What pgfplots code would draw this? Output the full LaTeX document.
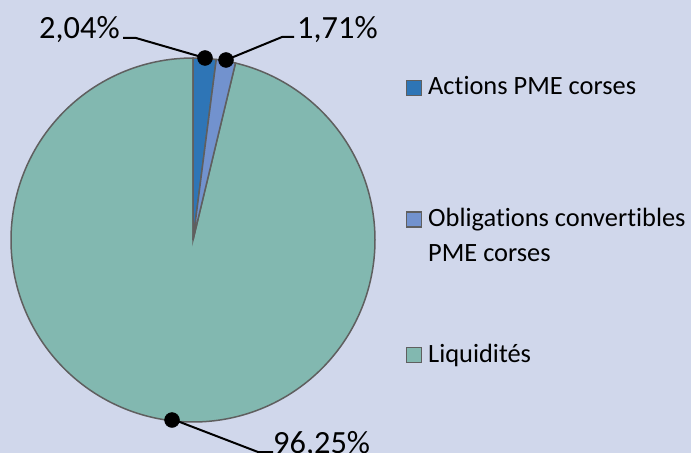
\documentclass[border=0pt]{standalone}
\usepackage{pgfplots}
\pgfplotsset{compat=1.18}
\usepackage{fontspec}
\setmainfont[Ligatures={NoCommon}]{Carlito}
\definecolor{bg}{RGB}{208,215,235}
\definecolor{sA}{RGB}{46,117,182}
\definecolor{sB}{RGB}{114,146,206}
\definecolor{sC}{RGB}{130,184,176}
\definecolor{edge}{RGB}{95,95,95}
% data (percent)
\def\vA{2.04}
\def\vB{1.71}
\def\vC{96.25}
\def\cx{193}
\def\cy{240}
\def\R{182}
\begin{document}
\begin{tikzpicture}
\pgfmathsetmacro{\aZero}{90}
\pgfmathsetmacro{\aA}{90-3.6*\vA}
\pgfmathsetmacro{\aB}{\aA-3.6*\vB}
\pgfmathsetmacro{\aC}{\aB-3.6*\vC}
\begin{axis}[
  width=691bp, height=453bp, scale only axis,
  xmin=0, xmax=691, ymin=0, ymax=453, y dir=reverse,
  hide axis, clip=true,
]
% background
\addplot[fill=bg, draw=none] coordinates {(0,0) (691,0) (691,453) (0,453)} -- cycle;
% wedges
\addplot[fill=sC, draw=edge, line width=1.5bp, domain=\aC:\aB, samples=300, variable=\t]
  ({\cx+\R*cos(\t)}, {\cy-\R*sin(\t)}) -- (axis cs:\cx,\cy) -- cycle;
\addplot[fill=sA, draw=edge, line width=1.5bp, domain=\aA:\aZero, samples=12, variable=\t]
  ({\cx+\R*cos(\t)}, {\cy-\R*sin(\t)}) -- (axis cs:\cx,\cy) -- cycle;
\addplot[fill=sB, draw=edge, line width=1.5bp, domain=\aB:\aA, samples=12, variable=\t]
  ({\cx+\R*cos(\t)}, {\cy-\R*sin(\t)}) -- (axis cs:\cx,\cy) -- cycle;
% leader lines
\addplot[black, line width=2bp] coordinates {(123,38) (136,38) (205,58)};
\addplot[black, line width=2bp] coordinates {(294,37) (282,37) (226,60)};
\addplot[black, line width=2bp] coordinates {(172,419) (258,452) (273,452)};
% dots
\addplot[only marks, mark=*, mark size=7.5bp, black] coordinates {(205,58) (226,60) (172,420)};
% labels
\node[anchor=base west, inner sep=0pt, font=\fontsize{32.5}{38}\selectfont] at (axis cs:39,39) {2,04\%};
\node[anchor=base west, inner sep=0pt, font=\fontsize{32.5}{38}\selectfont] at (axis cs:297,39) {1,71\%};
\node[anchor=base west, inner sep=0pt, font=\fontsize{32.5}{38}\selectfont] at (axis cs:273,453) {96,25\%};
% legend
\addplot[only marks, mark=square*, mark size=7.5bp, mark options={fill=sA, draw=edge, line width=1.5bp}] coordinates {(414,88)};
\addplot[only marks, mark=square*, mark size=7.5bp, mark options={fill=sB, draw=edge, line width=1.5bp}] coordinates {(414,219.5)};
\addplot[only marks, mark=square*, mark size=7.5bp, mark options={fill=sC, draw=edge, line width=1.5bp}] coordinates {(414,355)};
\node[anchor=base west, inner sep=0pt, font=\fontsize{26.5}{35}\selectfont] at (axis cs:428,94) {Actions PME corses};
\node[anchor=north west, inner sep=0pt, align=left, font=\fontsize{26.5}{35}\selectfont] at (axis cs:428,208) {Obligations convertibles\\PME corses};
\node[anchor=base west, inner sep=0pt, font=\fontsize{26.5}{35}\selectfont] at (axis cs:428,362) {Liquidités};
\end{axis}
\pgfresetboundingbox
\useasboundingbox (current axis.south west) rectangle (current axis.north east);
\end{tikzpicture}
\end{document}
